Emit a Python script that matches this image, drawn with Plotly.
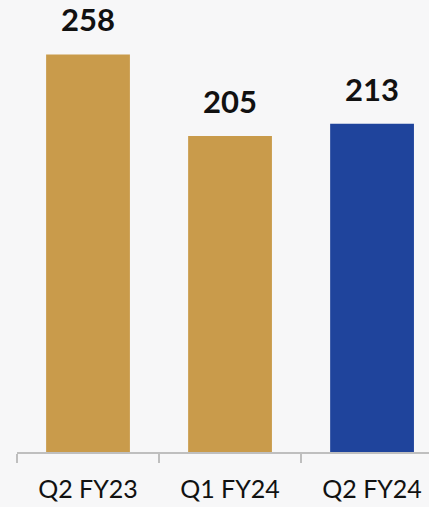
import plotly.graph_objects as go

categories = ["Q2 FY23", "Q1 FY24", "Q2 FY24"]
values = [258, 205, 213]
colors = ["#C99B4B", "#C99B4B", "#1F449C"]

fig = go.Figure()
fig.add_trace(go.Bar(
    x=categories, y=values,
    marker=dict(color=colors, line=dict(width=0)),
    width=0.59,
    hoverinfo="skip",
))

for c, v in zip(categories, values):
    fig.add_annotation(
        x=c, y=v, text=f"<b>{v}</b>", showarrow=False,
        yanchor="bottom", yshift=14,
        font=dict(family="Lato", size=31, color="#111111"),
    )

fig.update_layout(
    width=429, height=507,
    margin=dict(l=17, r=0, t=0, b=55),
    paper_bgcolor="#f7f7f8",
    plot_bgcolor="rgba(0,0,0,0)",
    showlegend=False,
    bargap=0.41,
    xaxis=dict(
        type="category",
        range=[-0.5, 2.401],
        showline=True, linecolor="#bfbfbf", linewidth=1.5,
        ticks="outside", tickson="boundaries", ticklen=9,
        tickcolor="#bfbfbf", tickwidth=1.5,
        tickfont=dict(family="Lato", size=25, color="#111111"),
        ticklabelstandoff=14,
        showgrid=False, zeroline=False,
        fixedrange=True,
    ),
    yaxis=dict(
        range=[0, 293.3], visible=False, showgrid=False, zeroline=False,
        fixedrange=True,
    ),
)

fig.write_html(
    "out.html",
    config={"displayModeBar": False},
    post_script="document.body.style.margin='0';document.body.style.overflow='hidden';",
)
